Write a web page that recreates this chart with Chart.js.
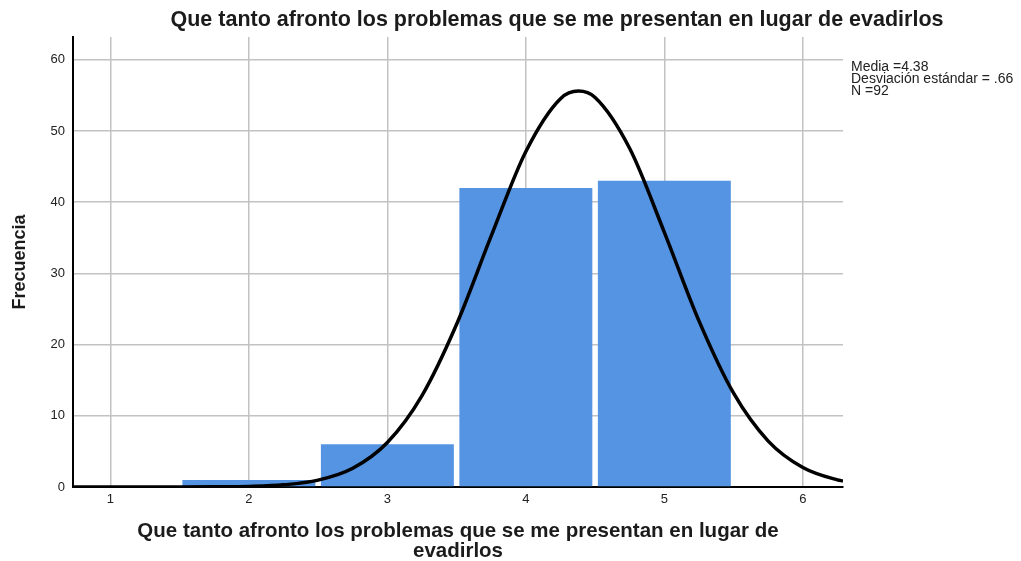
<!DOCTYPE html>
<html>
<head>
<meta charset="utf-8">
<script src="https://cdn.jsdelivr.net/npm/chart.js@4"></script>
<style>
  html, body { margin: 0; padding: 0; background: #fff; }
  #wrap { width: 1021px; height: 561px; }
</style>
</head>
<body>
<div id="wrap"><canvas id="histChart" width="1021" height="561"></canvas></div>
<script>
const TITLE = 'Que tanto afronto los problemas que se me presentan en lugar de evadirlos';
const X_TITLE = ['Que tanto afronto los problemas que se me presentan en lugar de', 'evadirlos'];
const Y_TITLE = 'Frecuencia';
const STATS = ['Media =4.38', 'Desviación estándar = .66', 'N =92'];

// histogram bins (answer value) and counts
const binValues = [2, 3, 4, 5];
const binCounts = [1, 6, 42, 43];

// normal curve
const curveX = [0.73, 1, 1.25, 1.5, 1.75, 2, 2.25, 2.5, 2.75, 3, 3.25, 3.5, 3.75, 4, 4.25, 4.38,
                4.5, 4.75, 5, 5.25, 5.5, 5.75, 6, 6.25, 6.29];
const curveY = [0, 0, 0, 0, 0.02, 0.08, 0.3, 0.96, 2.63, 6.25, 12.84, 22.86, 35.26, 47.12, 54.54, 55.6,
                54.7, 47.53, 35.77, 23.33, 13.17, 6.45, 2.74, 1.0, 0.85];

const X_MIN = 0.73, X_MAX = 6.29;
const Y_MAX = 63.2;

const FONT = 'Liberation Sans, Arial, sans-serif';
const GRID = '#c2c2c2';

const textPlugin = {
    id: 'extraText',
    afterDraw(chart) {
        const c = chart.ctx;
        const area = chart.chartArea;
        c.save();
        c.fillStyle = '#1b1b1b';
        c.font = 'bold 21.5px ' + FONT;
        c.textAlign = 'center';
        c.textBaseline = 'middle';
        c.fillText(TITLE, 557, 20);
        c.font = '14px ' + FONT;
        c.textAlign = 'left';
        c.fillStyle = '#222';
        STATS.forEach((s, i) => c.fillText(s, area.right + 8, 67 + i * 12));
        c.restore();
    }
};

const ctx = document.getElementById('histChart').getContext('2d');

new Chart(ctx, {
    type: 'bar',
    data: {
        datasets: [{
            type: 'line',
            data: curveX.map((x, i) => ({ x, y: curveY[i] })),
            borderColor: '#000',
            borderWidth: 3.5,
            pointRadius: 0,
            cubicInterpolationMode: 'monotone',
            fill: false,
            order: 0
        }, {
            type: 'bar',
            data: binValues.map((x, i) => ({ x, y: binCounts[i] })),
            backgroundColor: '#5494e3',
            borderWidth: 0,
            barPercentage: 0.96,
            categoryPercentage: 1,
            order: 1
        }]
    },
    options: {
        responsive: false,
        animation: false,
        layout: { padding: { top: 37, right: 178, left: 0, bottom: 0 } },
        plugins: {
            legend: { display: false },
            tooltip: { enabled: false },
            title: { display: false }
        },
        scales: {
            x: {
                type: 'linear',
                min: X_MIN,
                max: X_MAX,
                offset: false,
                afterFit: s => { s.height = 74; },
                grid: { color: GRID, lineWidth: 1.5, drawTicks: false, offset: false },
                border: { color: '#000', width: 2 },
                ticks: {
                    stepSize: 1,
                    includeBounds: false,
                    padding: 5,
                    color: '#222',
                    font: { family: FONT, size: 13 }
                },
                title: {
                    display: true,
                    text: X_TITLE,
                    color: '#1b1b1b',
                    padding: { top: 0, bottom: 0 },
                    font: { family: FONT, size: 20.5, weight: 'bold', lineHeight: '19.5px' }
                }
            },
            y: {
                min: 0,
                max: Y_MAX,
                afterFit: s => { s.width = 73; },
                grid: { color: GRID, lineWidth: 1.5, drawTicks: false },
                border: { color: '#000', width: 2 },
                ticks: {
                    stepSize: 10,
                    includeBounds: false,
                    padding: 8,
                    color: '#222',
                    font: { family: FONT, size: 13 }
                },
                title: {
                    display: true,
                    text: Y_TITLE,
                    color: '#1b1b1b',
                    padding: { top: 9, bottom: 0 },
                    font: { family: FONT, size: 18, weight: 'bold' }
                }
            }
        }
    },
    plugins: [textPlugin]
});
</script>
</body>
</html>
